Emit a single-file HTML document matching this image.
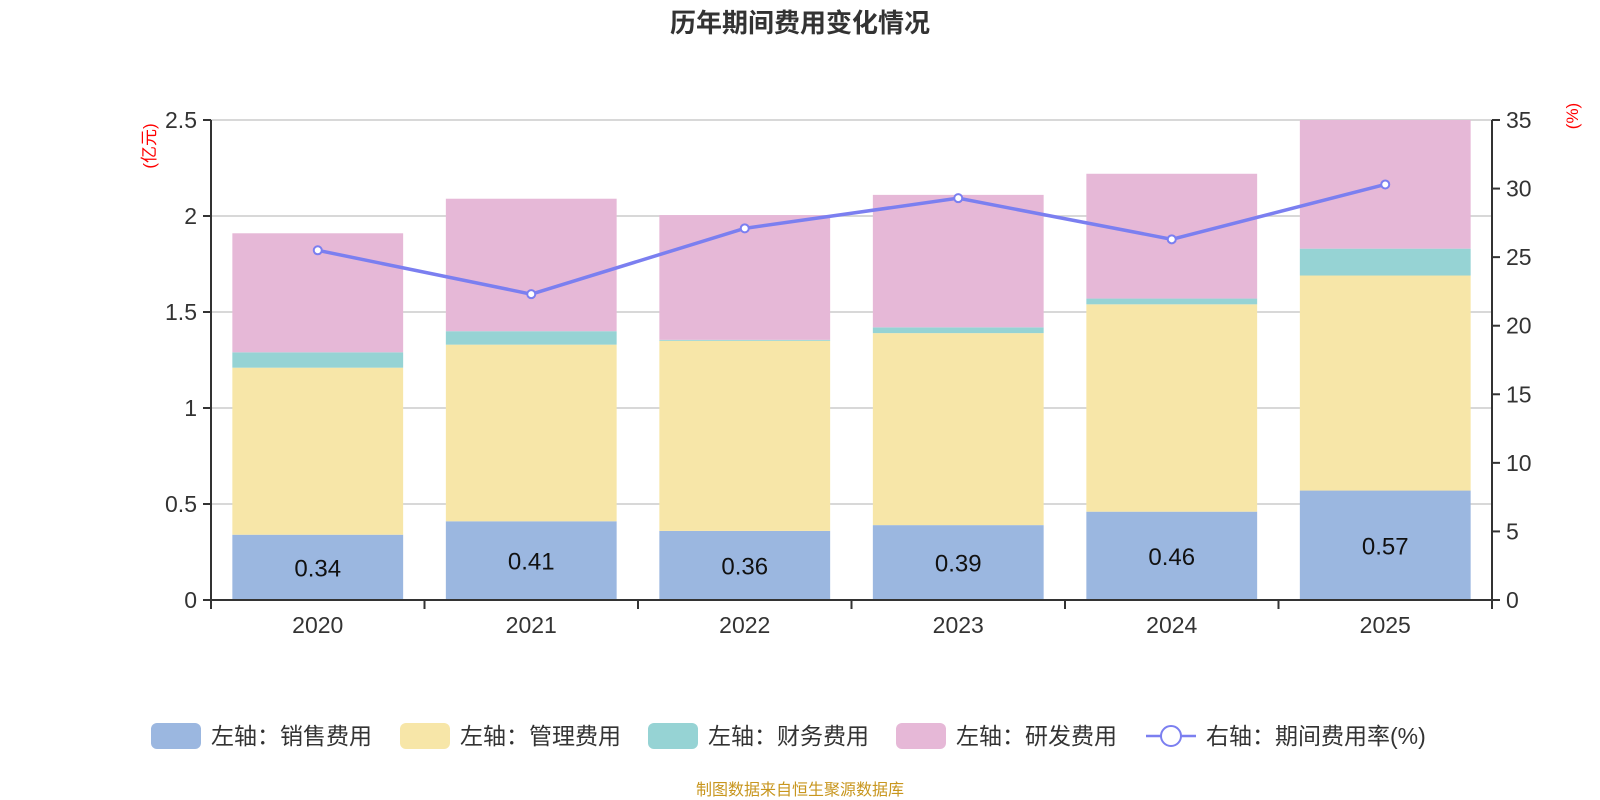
<!DOCTYPE html>
<html><head><meta charset="utf-8"><style>
body{margin:0;width:1600px;height:800px;background:#fff;overflow:hidden;font-family:"Liberation Sans","Noto Sans CJK SC",sans-serif}
svg{display:block}
</style></head><body>
<svg id="c" width="1600" height="800"></svg>
<script>
const categories=["2020","2021","2022","2023","2024","2025"];
const sales=[0.34,0.41,0.36,0.39,0.46,0.57];
const admin=[0.87,0.92,0.99,1.00,1.08,1.12];
const finance=[0.08,0.07,0.005,0.03,0.03,0.14];
const rnd=[0.62,0.69,0.65,0.69,0.65,0.67];
const rate=[25.5,22.3,27.1,29.3,26.3,30.3];
const leftTicks=[0,0.5,1,1.5,2,2.5];
const rightTicks=[0,5,10,15,20,25,30,35];
const legendLabels=["左轴：销售费用","左轴：管理费用","左轴：财务费用","左轴：研发费用","右轴：期间费用率(%)"];

const NS="http://www.w3.org/2000/svg";
const svg=document.getElementById('c');
const L=211,R=1492,T=120,B=600;
const yL=v=>B-(v/2.5)*(B-T);
const yR=v=>B-(v/35)*(B-T);
const bw=(R-L)/categories.length;
const xC=i=>L+bw*(i+0.5);
function el(tag,attrs,txt){const e=document.createElementNS(NS,tag);for(const k in attrs)e.setAttribute(k,attrs[k]);if(txt!==undefined)e.textContent=txt;svg.appendChild(e);return e;}

let t=el('text',{x:800,y:32,'text-anchor':'middle','font-size':26,'font-weight':'bold',fill:'#333'},'历年期间费用变化情况');



leftTicks.forEach(v=>{
  const g=el('line',{x1:L,x2:R,y1:yL(v),y2:yL(v),stroke:'#ccc','stroke-width':1.5});
  
  
  const tk=el('line',{x1:L-8,x2:L,y1:yL(v),y2:yL(v),stroke:'#333','stroke-width':2});
  
  
  const lb=el('text',{x:L-14,y:yL(v)+8,'text-anchor':'end','font-size':23,fill:'#333'},String(v));
  
  
});
rightTicks.forEach(v=>{
  const tk=el('line',{x1:R,x2:R+8,y1:yR(v),y2:yR(v),stroke:'#333','stroke-width':2});
  
  
  const lb=el('text',{x:R+14,y:yR(v)+8,'font-size':23,fill:'#333'},String(v));
  
  
});
let u=el('text',{x:0,y:0,transform:`translate(155,146) rotate(-90)`,'text-anchor':'middle','font-size':17,fill:'red'},'(亿元)');


u=el('text',{x:0,y:0,transform:`translate(1578,116) rotate(-90)`,'text-anchor':'middle','font-size':17,fill:'red'},'(%)');



const series=[[sales,'#9bb7e0','sales'],[admin,'#f7e6a8','admin'],[finance,'#96d3d4','finance'],[rnd,'#e6b8d7','rnd']];
categories.forEach((c,i)=>{
  let base=0;
  const x=xC(i)-bw*0.4;
  series.forEach(([arr,col,nm])=>{
    const top=Math.min(base+arr[i],2.5);
    const r=el('rect',{x:x,y:yL(top),width:bw*0.8,height:Math.max(0,yL(base)-yL(top)),fill:col});
    
    
    base+=arr[i];
  });
  const lb=el('text',{x:xC(i),y:(yL(0)+yL(sales[i]))/2+9,'text-anchor':'middle','font-size':24,fill:'#111'},sales[i].toFixed(2));
  
  
  const xl=el('text',{x:xC(i),y:B+33,'text-anchor':'middle','font-size':23,fill:'#333'},c);
  
  
});
for(let i=0;i<=categories.length;i++){
  const tk=el('line',{x1:L+bw*i,x2:L+bw*i,y1:B,y2:B+9,stroke:'#333','stroke-width':2});
  
  
}
let a=el('line',{x1:L,x2:L,y1:T,y2:B,stroke:'#333','stroke-width':2});


a=el('line',{x1:R,x2:R,y1:T,y2:B,stroke:'#333','stroke-width':2});


a=el('line',{x1:L,x2:R,y1:B,y2:B,stroke:'#333','stroke-width':2});



const pl=el('polyline',{points:rate.map((v,i)=>xC(i)+','+yR(v)).join(' '),fill:'none',stroke:'#7b7ff0','stroke-width':3.5});


rate.forEach((v,i)=>{
  const p=el('circle',{cx:xC(i),cy:yR(v),r:4,fill:'#fff',stroke:'#7b7ff0','stroke-width':2});
  
  
});

const lx=[151,400,648,896,1146];
const lc=['#9bb7e0','#f7e6a8','#96d3d4','#e6b8d7'];
legendLabels.forEach((s,i)=>{
  const y=736;
  if(i<4){
    const r=el('rect',{x:lx[i],y:y-13,width:50,height:26,rx:6,fill:lc[i]});
    
    
  }else{
    const l=el('line',{x1:lx[i],x2:lx[i]+50,y1:y,y2:y,stroke:'#7b7ff0','stroke-width':2.5});
    
    
    const c=el('circle',{cx:lx[i]+25,cy:y,r:10,fill:'#fff',stroke:'#7b7ff0','stroke-width':2});
    
    
  }
  const tx=el('text',{x:lx[i]+60,y:y+8,'font-size':23,fill:'#333'},s);
  
  
});
const f=el('text',{x:800,y:795,'text-anchor':'middle','font-size':16,fill:'#c8961e'},'制图数据来自恒生聚源数据库');


</script>
</body></html>
